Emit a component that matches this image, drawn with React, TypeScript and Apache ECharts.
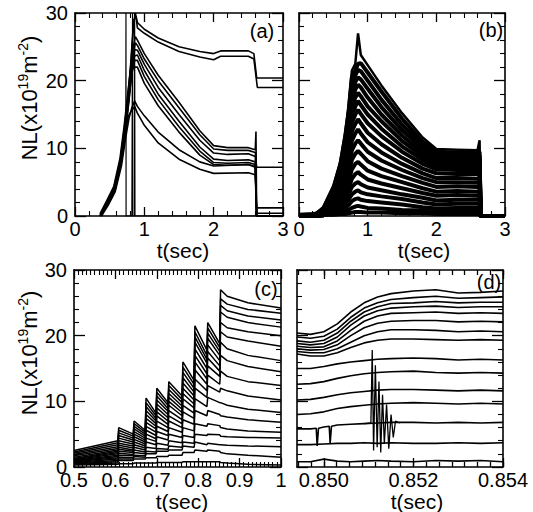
import React, { useEffect, useRef } from 'react';
import * as echarts from 'echarts';

const FONT = 'Liberation Sans';

// ---------- Panel (a): individual discharges, [t, NL] ----------
const A1 = [[0.36,0],[0.46,2.0],[0.56,4.2],[0.65,8.0],[0.71,12.8],[0.76,17.5],[0.8,22],[0.84,28],[0.87,30],[0.9,28.6],[1.0,27.6],[1.2,26.3],[1.5,25.0],[1.8,24.3],[2.0,24.0],[2.1,24.4],[2.5,24.4],[2.58,24.0],[2.62,20.4],[3.0,20.4]];
const A2 = [[0.37,0],[0.47,2.1],[0.57,4.0],[0.66,8.2],[0.72,13],[0.77,18],[0.81,23],[0.85,29],[0.88,29.5],[0.9,27.8],[1.0,27.0],[1.2,25.7],[1.5,24.3],[1.8,23.5],[2.0,23.1],[2.1,23.6],[2.5,23.6],[2.58,23.2],[2.63,19.0],[3.0,19.0]];
const A3 = [[0.36,0.3],[0.46,2.3],[0.56,4.4],[0.65,8.6],[0.71,13.4],[0.76,18],[0.8,21.5],[0.84,25],[0.87,26.5],[0.9,26.0],[1.0,24.0],[1.2,20.8],[1.5,16.8],[1.8,12.6],[2.0,10.4],[2.2,10.1],[2.5,10.1],[2.6,9.8],[2.61,12.5],[2.62,0.4],[3.0,0.4]];
const A4 = [[0.37,0],[0.47,1.8],[0.57,3.8],[0.66,7.8],[0.72,12.4],[0.77,17],[0.81,21],[0.85,24.5],[0.87,25.6],[0.9,25.2],[1.0,23.2],[1.2,20.0],[1.5,16.0],[1.8,12.0],[2.0,9.9],[2.2,9.7],[2.5,9.7],[2.6,9.4],[2.62,7.2],[3.0,7.2]];
const A5 = [[0.38,0],[0.48,1.9],[0.58,3.9],[0.67,8.0],[0.73,12.6],[0.78,17.2],[0.82,21.5],[0.86,24.6],[0.9,24.5],[1.0,22.4],[1.2,19.0],[1.5,15.0],[1.8,11.2],[2.0,9.3],[2.2,9.1],[2.5,9.2],[2.6,8.8],[2.62,1.2],[3.0,1.2]];
const A6 = [[0.37,0.2],[0.47,2.2],[0.57,4.1],[0.66,8.4],[0.72,13],[0.77,17.6],[0.81,21.2],[0.85,23.6],[0.9,23.8],[1.0,21.5],[1.2,18.0],[1.5,14.0],[1.8,10.2],[2.0,8.4],[2.2,8.2],[2.5,8.3],[2.6,8.0],[2.62,0],[3.0,0]];
const A7 = [[0.38,0.1],[0.48,2.0],[0.58,4.0],[0.67,8.2],[0.73,12.8],[0.78,17.4],[0.82,21],[0.86,23],[0.9,23.0],[1.0,20.6],[1.2,17.2],[1.5,13.2],[1.8,9.6],[2.0,7.9],[2.2,7.8],[2.5,7.9],[2.6,7.6],[2.62,0],[3.0,0]];
const A8 = [[0.36,0],[0.46,1.7],[0.56,3.7],[0.65,7.6],[0.71,12.2],[0.76,16.8],[0.8,20.5],[0.84,22],[0.9,22.0],[1.0,19.6],[1.2,16.3],[1.5,12.4],[1.8,9.0],[2.0,7.6],[2.2,7.5],[2.5,7.6],[2.6,7.3],[2.62,0],[3.0,0]];
const A9 = [[0.38,0],[0.48,1.6],[0.58,3.6],[0.67,7.4],[0.73,11.5],[0.78,14.5],[0.82,16],[0.86,17.0],[0.9,16.2],[1.0,14.8],[1.2,12.4],[1.5,9.8],[1.8,8.0],[2.0,7.4],[2.5,7.6],[2.6,7.2],[2.62,0],[3.0,0]];
const A10 = [[0.37,0.2],[0.47,2.0],[0.57,4.0],[0.66,7.8],[0.72,12],[0.77,14.8],[0.82,15.6],[0.86,16.2],[0.9,15.2],[1.0,13.4],[1.2,10.8],[1.5,8.4],[1.8,6.9],[2.0,6.3],[2.5,6.4],[2.6,6.1],[2.62,0],[3.0,0]];
const A11 = [[0.36,0.1],[0.46,1.9],[0.56,4.0],[0.65,8.0],[0.71,12.5],[0.733,15],[0.735,30],[0.737,0],[3.0,0]];
const A12 = [[0.82,0],[0.83,30],[0.832,0]];
const A13 = [[0.855,0],[0.86,30],[0.865,0]];

// ---------- Panel (b): shared times, one value list per discharge ----------
const TB = [0, 0.2, 0.35, 0.5, 0.6, 0.67, 0.72, 0.77, 0.82, 0.86, 0.9, 1.0, 1.2, 1.5, 1.8, 2.0, 2.3, 2.6, 2.63, 2.645, 3.0];
const B1 = [0, 0, 1.3, 4.5, 8, 12.2, 16, 21.5, 22.5, 27, 23.8, 22.3, 19.3, 15.2, 11.6, 9.9, 9.8, 9.7, 11.2, 0, 0];
const B2 = [0, 0, 1.0, 4.0, 7.5, 11.5, 15.2, 20.5, 21.5, 22.5, 22.6, 21.2, 18.4, 14.4, 11.0, 9.5, 9.4, 9.3, 9.5, 0, 0];
const B3 = [0, 0, 0.8, 3.6, 7.0, 10.8, 14.5, 19.5, 20.8, 21.6, 21.4, 20.0, 17.2, 13.5, 10.4, 9.1, 9.0, 8.9, 9.0, 0, 0];
const B4 = [0, 0, 0.6, 3.2, 6.4, 10.0, 13.6, 18.5, 19.8, 20.5, 20.2, 18.8, 16.1, 12.7, 9.9, 8.7, 8.6, 8.6, 8.7, 0, 0];
const B5 = [0, 0, 0.5, 2.9, 5.9, 9.3, 12.7, 17.4, 18.7, 19.4, 19.0, 17.5, 15.0, 11.9, 9.3, 8.2, 8.2, 8.2, 8.3, 0, 0];
const B6 = [0, 0, 0.4, 2.6, 5.4, 8.6, 11.8, 16.2, 17.5, 18.2, 17.7, 16.2, 14.0, 11.1, 8.8, 7.8, 7.8, 7.8, 7.9, 0, 0];
const B7 = [0, 0, 0.3, 2.3, 4.9, 7.9, 10.9, 15.0, 16.2, 17.0, 16.4, 15.0, 12.9, 10.3, 8.3, 7.4, 7.3, 7.3, 7.4, 0, 0];
const B8 = [0, 0, 0.3, 2.0, 4.4, 7.2, 10.0, 13.8, 15.0, 15.7, 15.1, 13.7, 11.8, 9.5, 7.7, 6.9, 6.8, 6.8, 6.9, 0, 0];
const B9 = [0, 0, 0.2, 1.8, 4.0, 6.5, 9.0, 12.5, 13.6, 14.3, 13.7, 12.3, 10.6, 8.6, 7.0, 6.3, 6.2, 6.2, 6.3, 0, 0];
const B10 = [0, 0, 0.2, 1.6, 3.6, 5.8, 8.0, 11.1, 12.2, 12.8, 12.2, 10.9, 9.4, 7.7, 6.3, 5.6, 5.6, 5.5, 5.6, 0, 0];
const B11 = [0, 0, 0.2, 1.4, 3.2, 5.1, 7.0, 9.7, 10.7, 11.2, 10.7, 9.5, 8.2, 6.8, 5.6, 5.0, 5.0, 4.9, 5.0, 0, 0];
const B12 = [0, 0, 0.1, 1.2, 2.8, 4.4, 6.0, 8.3, 9.2, 9.6, 9.2, 8.1, 7.0, 5.9, 4.9, 4.3, 4.4, 4.3, 4.4, 0, 0];
const B13 = [0, 0, 0.1, 1.0, 2.4, 3.7, 5.0, 6.9, 7.7, 8.0, 7.6, 6.7, 5.9, 5.0, 4.1, 3.6, 3.7, 3.6, 3.7, 0, 0];
const B14 = [0, 0, 0.1, 0.8, 2.0, 3.0, 4.0, 5.5, 6.2, 6.5, 6.1, 5.4, 4.8, 4.1, 3.4, 3.0, 3.1, 3.0, 3.1, 0, 0];
const B15 = [0, 0, 0.1, 0.7, 1.6, 2.4, 3.2, 4.3, 4.8, 5.0, 4.7, 4.2, 3.8, 3.2, 2.7, 2.3, 2.4, 2.4, 2.4, 0, 0];
const B16 = [0, 0, 0.1, 0.5, 1.2, 1.8, 2.4, 3.2, 3.6, 3.8, 3.5, 3.2, 2.9, 2.5, 2.0, 1.7, 1.8, 1.8, 1.8, 0, 0];
const B17 = [0.1, 0.2, 0.2, 0.4, 0.8, 1.2, 1.6, 2.2, 2.5, 2.6, 2.4, 2.2, 2.0, 1.7, 1.3, 1.1, 1.2, 1.2, 1.2, 0, 0];
const B18 = [0.2, 0.3, 0.4, 0.4, 0.5, 0.7, 0.9, 1.2, 1.4, 1.5, 1.4, 1.2, 1.1, 0.9, 0.8, 0.6, 0.7, 0.7, 0.7, 0, 0];
const B19 = [0.1, 0.1, 0.2, 0.2, 0.3, 0.3, 0.4, 0.5, 0.6, 0.6, 0.6, 0.5, 0.5, 0.4, 0.4, 0.3, 0.3, 0.3, 0.3, 0, 0];

// ---------- Panel (c): pellet staircase, shared times ----------
const TC = [0.5, 0.606, 0.608, 0.643, 0.645, 0.672, 0.674, 0.698, 0.7, 0.727, 0.729, 0.761, 0.763, 0.79, 0.792, 0.821, 0.823, 0.852, 0.854, 0.87, 0.92, 1.0];
const C1 = [2.5, 4.0, 6.0, 5.0, 7.0, 5.6, 10.5, 8.2, 12.0, 9.8, 13.0, 10.8, 16.0, 13.2, 21.5, 17.8, 22.0, 18.8, 27.0, 26.0, 25.0, 24.2];
const C2 = [2.3, 3.7, 5.6, 4.7, 6.6, 5.3, 9.8, 7.8, 11.4, 9.4, 12.4, 10.3, 15.2, 12.6, 20.6, 17.0, 21.2, 18.2, 25.6, 24.8, 24.0, 23.4];
const C3 = [2.1, 3.4, 5.2, 4.4, 6.2, 5.0, 9.2, 7.4, 10.8, 8.9, 11.8, 9.8, 14.4, 12.0, 19.8, 16.4, 20.4, 17.6, 24.6, 23.8, 23.0, 22.4];
const C4 = [1.9, 3.1, 4.8, 4.1, 5.8, 4.7, 8.6, 7.0, 10.2, 8.5, 11.2, 9.3, 13.6, 11.4, 19.0, 15.8, 19.6, 17.0, 23.6, 22.8, 22.0, 21.3];
const C5 = [1.7, 2.8, 4.4, 3.8, 5.4, 4.4, 8.0, 6.6, 9.6, 8.0, 10.6, 8.8, 12.8, 10.8, 18.0, 15.0, 18.6, 16.2, 22.0, 21.2, 20.6, 20.0];
const C6 = [1.5, 2.6, 4.0, 3.5, 5.0, 4.1, 7.4, 6.2, 9.0, 7.5, 10.0, 8.3, 12.0, 10.2, 17.0, 14.2, 17.6, 15.4, 20.6, 19.8, 19.2, 18.4];
const C7 = [1.3, 2.4, 3.6, 3.2, 4.6, 3.8, 6.8, 5.8, 8.4, 7.0, 9.4, 7.8, 11.2, 9.6, 16.0, 13.4, 16.6, 14.6, 19.0, 18.0, 17.0, 16.2];
const C8 = [1.2, 2.2, 3.3, 2.9, 4.2, 3.5, 6.2, 5.3, 7.8, 6.5, 8.6, 7.2, 10.4, 9.0, 14.8, 12.6, 15.4, 13.8, 17.0, 16.2, 15.3, 14.5];
const C9 = [1.1, 2.0, 3.0, 2.6, 3.8, 3.2, 5.6, 4.8, 7.0, 6.0, 7.8, 6.6, 9.4, 8.2, 13.4, 11.6, 14.0, 12.6, 14.6, 13.8, 13.0, 12.4];
const C10 = [1.0, 1.8, 2.7, 2.4, 3.4, 2.9, 5.0, 4.3, 6.2, 5.4, 7.0, 6.0, 8.4, 7.4, 12.0, 10.6, 12.4, 11.4, 12.0, 11.6, 10.8, 10.2];
const C11 = [0.9, 1.6, 2.4, 2.2, 3.0, 2.6, 4.4, 3.9, 5.4, 4.8, 6.0, 5.3, 7.2, 6.5, 10.4, 9.2, 10.6, 9.8, 9.8, 9.4, 8.8, 8.3];
const C12 = [0.8, 1.4, 2.1, 1.9, 2.6, 2.3, 3.8, 3.4, 4.6, 4.1, 5.0, 4.5, 6.0, 5.5, 8.6, 7.8, 8.6, 8.0, 7.8, 7.6, 7.2, 6.8];
const C13 = [0.7, 1.2, 1.8, 1.7, 2.2, 2.0, 3.0, 2.8, 3.6, 3.3, 4.0, 3.7, 4.8, 4.5, 6.6, 6.2, 6.6, 6.3, 6.0, 5.8, 5.5, 5.3];
const C14 = [0.6, 1.0, 1.5, 1.4, 1.8, 1.7, 2.4, 2.3, 2.8, 2.7, 3.2, 3.0, 3.8, 3.6, 5.0, 4.8, 5.0, 4.9, 4.7, 4.6, 4.5, 4.4];
const C15 = [0.5, 0.8, 1.2, 1.2, 1.6, 1.5, 2.0, 2.0, 2.4, 2.4, 2.6, 2.6, 3.2, 3.0, 3.8, 3.4, 3.6, 3.4, 3.4, 3.3, 3.2, 3.1];
const C16 = [0.4, 0.6, 1.0, 1.0, 1.2, 1.2, 1.4, 1.4, 1.6, 1.6, 1.8, 1.8, 2.2, 2.2, 2.6, 2.4, 2.6, 2.4, 2.2, 2.0, 1.8, 1.5];
const C17 = [0.3, 0.4, 0.5, 0.5, 0.6, 0.6, 0.6, 0.6, 0.7, 0.7, 0.7, 0.7, 0.8, 0.8, 0.8, 0.8, 0.8, 0.8, 0.7, 0.6, 0.4, 0.3];

// ---------- Panel (d): zoom around the last pellet ----------
const TD = [0.8494, 0.8497, 0.85, 0.8503, 0.8506, 0.8509, 0.8512, 0.8515, 0.852, 0.8525, 0.853, 0.8535, 0.854];
const D1 = [20.4, 20.2, 20.6, 21.8, 23.6, 25.0, 25.9, 26.4, 26.8, 27.0, 26.5, 26.6, 26.8];
const D2 = [19.8, 19.6, 19.9, 21.0, 22.8, 24.2, 25.0, 25.5, 25.8, 26.0, 25.7, 25.8, 25.9];
const D3 = [19.2, 19.0, 19.3, 20.4, 22.2, 23.6, 24.4, 24.9, 25.0, 25.2, 25.0, 25.1, 25.1];
const D4 = [18.8, 18.6, 18.8, 19.8, 21.6, 23.0, 23.8, 24.2, 24.4, 24.5, 24.3, 24.4, 24.4];
const D5 = [18.4, 18.2, 18.3, 19.2, 20.8, 22.2, 23.0, 23.4, 23.5, 23.6, 23.4, 23.5, 23.4];
const D6 = [18.0, 17.8, 17.9, 18.6, 20.0, 21.2, 21.9, 22.2, 22.3, 22.3, 22.1, 22.2, 22.1];
const D7 = [17.6, 17.4, 17.4, 18.0, 19.0, 20.0, 20.6, 20.9, 20.9, 20.8, 20.6, 20.7, 20.6];
const D8 = [17.2, 16.9, 16.9, 17.4, 18.2, 18.9, 19.3, 19.5, 19.5, 19.4, 19.3, 19.4, 19.3];
const D9 = [15.0, 15.0, 15.3, 15.7, 16.0, 16.2, 16.4, 16.5, 16.6, 16.5, 16.3, 16.4, 16.3];
const D10 = [12.6, 12.7, 13.0, 13.5, 13.9, 14.2, 14.4, 14.5, 14.6, 14.4, 14.3, 14.4, 14.3];
const D11 = [10.2, 10.3, 10.6, 11.0, 11.3, 11.5, 11.7, 11.8, 11.8, 11.7, 11.6, 11.7, 11.6];
const D12 = [8.0, 8.1, 8.4, 8.9, 9.2, 9.4, 9.6, 9.7, 9.8, 9.7, 9.6, 9.7, 9.6];
const D14 = [3.4, 3.4, 3.5, 3.6, 3.6, 3.7, 3.6, 3.7, 3.6, 3.6, 3.7, 3.6, 3.7];
const D15 = [0.8, 0.8, 1.2, 0.9, 0.8, 0.9, 1.0, 0.9, 0.8, 1.0, 0.9, 1.0, 0.8];
const D13 = [[0.8494,5.8],[0.8497,5.8],[0.84983,5.9],[0.84985,3.2],[0.84988,5.9],[0.85,6.1],[0.85012,6.2],[0.85014,3.6],[0.85017,6.2],[0.8503,6.4],[0.8506,6.5],[0.8509,6.6],[0.8512,6.7],[0.8515,6.8],[0.852,6.8],[0.8525,6.7],[0.853,6.8],[0.8535,6.7],[0.854,6.8]];
const D_SPIKE = [[0.8509,6.6],[0.85105,6.7],[0.85108,17.8],[0.85111,2.5],[0.85115,15.5],[0.85119,3.0],[0.85123,13.0],[0.85127,2.2],[0.85131,11.0],[0.85135,3.5],[0.8514,9.5],[0.85145,2.8],[0.8515,8.0],[0.85155,4.5],[0.8516,7.0],[0.8517,6.7]];

// tick labels
const Y_TICKS = [0, 10, 20, 30];
const DX_LABELS = [0.85, 0.852, 0.854];

const zip = (t: number[], v: number[]) => t.map((x, i) => [x, v[i]]);

const GRIDS = [
  { left: 75, top: 13, width: 208, height: 203 },
  { left: 299, top: 13, width: 206, height: 203 },
  { left: 74, top: 270, width: 207, height: 197 },
  { left: 297, top: 270, width: 206, height: 197 },
];

function axis(gridIndex: number, position: string, min: number, max: number, extra: any = {}) {
  const { interval, minorSplit = 0, showLabel = false, margin = 4, tickValues, labelValues, hideLine = false, tickLen = 9, lineHeight } = extra;
  const a: any = {
    type: 'value', gridIndex, position, min, max,
    axisLine: { show: !hideLine, onZero: false, lineStyle: { color: '#000', width: 1.6 } },
    axisTick: { show: true, inside: true, length: tickLen, lineStyle: { color: '#000', width: 1.3 } },
    minorTick: { show: minorSplit > 0, splitNumber: minorSplit || 5, length: 5, lineStyle: { color: '#000', width: 1.1 } },
    splitLine: { show: false },
    minorSplitLine: { show: false },
    axisLabel: {
      show: showLabel, margin, color: '#000', fontFamily: FONT, fontSize: 20,
      showMinLabel: true, showMaxLabel: true, hideOverlap: false,
    },
  };
  if (lineHeight) a.axisLabel.lineHeight = lineHeight;
  if (interval !== undefined) a.interval = interval;
  if (tickValues) a.axisTick.customValues = tickValues;
  if (labelValues) {
    a.axisLabel.customValues = labelValues;
    a.axisLabel.formatter = (v: number) => v.toFixed(3);
  }
  return a;
}

function ln(data: any[], idx: number, width: number) {
  return {
    type: 'line', xAxisIndex: idx, yAxisIndex: idx, data, symbol: 'none', showSymbol: false,
    silent: true, lineStyle: { color: '#000', width }, z: 3,
  };
}

function txt(text: string, x: number, y: number, size: number, lh?: number) {
  const style: any = { text, fill: '#000', fontFamily: FONT, fontSize: size, align: 'center', verticalAlign: 'middle', textAlign: 'center', textVerticalAlign: 'middle' };
  if (lh) style.lineHeight = lh;
  return { type: 'text', x, y, silent: true, style };
}

function yTitle(x: number, y: number) {
  return {
    type: 'text', x, y, rotation: Math.PI / 2, silent: true,
    style: {
      text: '{m|NL(x10}{s|19}{m|m}{s|-2}{m|)}',
      align: 'center', verticalAlign: 'middle', textAlign: 'center', textVerticalAlign: 'middle',
      fill: '#000', fontFamily: FONT, fontSize: 22,
      rich: {
        m: { fontFamily: FONT, fontSize: 22, fill: '#000', lineHeight: 26 },
        s: { fontFamily: FONT, fontSize: 14, fill: '#000', lineHeight: 14, verticalAlign: 'top' },
      },
    },
  };
}

export default function App() {
  const ref = useRef<HTMLDivElement>(null);
  useEffect(() => {
    document.body.style.margin = '0';
    const chart = echarts.init(ref.current!, null, { renderer: 'svg' });

    const dMinor: number[] = [];
    const step = (DX_LABELS[1] - DX_LABELS[0]) / 7;
    for (let k = -2; k <= 14; k++) {
      const v = DX_LABELS[0] + k * step;
      if (v >= 0.8494 - 1e-9 && v <= 0.854 + 1e-9) dMinor.push(Math.min(Math.max(v, 0.8494), 0.854));
    }

    const yMax = Y_TICKS[Y_TICKS.length - 1];
    const xl = { showLabel: true, margin: 6, lineHeight: 14 };
    const xAxis = [
      axis(0, 'bottom', 0, 3, { interval: 1, minorSplit: 5, ...xl }),
      axis(0, 'top', 0, 3, { interval: 1, minorSplit: 5 }),
      axis(1, 'bottom', 0, 3, { interval: 1, minorSplit: 5, ...xl }),
      axis(1, 'top', 0, 3, { interval: 1, minorSplit: 5 }),
      axis(2, 'bottom', 0.5, 1, { interval: 0.1, minorSplit: 10, ...xl }),
      axis(2, 'top', 0.5, 1, { interval: 0.1, minorSplit: 10 }),
      axis(3, 'bottom', 0.8494, 0.854, { ...xl, tickValues: DX_LABELS, labelValues: DX_LABELS }),
      axis(3, 'top', 0.8494, 0.854, { tickValues: DX_LABELS }),
      axis(3, 'bottom', 0.8494, 0.854, { tickValues: dMinor, hideLine: true, tickLen: 5 }),
      axis(3, 'top', 0.8494, 0.854, { tickValues: dMinor, hideLine: true, tickLen: 5 }),
    ];
    const yl = { interval: 10, minorSplit: 5, tickLen: 11 };
    const yAxis = [
      axis(0, 'left', 0, yMax, { ...yl, showLabel: true, margin: 7, lineHeight: 10 }),
      axis(0, 'right', 0, yMax, yl),
      axis(1, 'left', 0, yMax, yl),
      axis(1, 'right', 0, yMax, yl),
      axis(2, 'left', 0, yMax, { ...yl, showLabel: true, margin: 7, lineHeight: 10 }),
      axis(2, 'right', 0, yMax, yl),
      axis(3, 'left', 0, yMax, yl),
      axis(3, 'right', 0, yMax, yl),
    ];

    const series: any[] = [];
    [A1, A2, A3, A4, A5, A6, A7, A8, A9, A10].forEach((d) => series.push(ln(d, 0, 1.6)));
    [A11, A12, A13].forEach((d) => series.push(ln(d, 0, 1.2)));
    series.push(ln(zip(TB, B1), 2, 2.5));
    [B2, B3, B4, B5, B6, B7, B8, B9, B10, B11, B12, B13, B14, B15, B16, B17, B18, B19].forEach((v) => series.push(ln(zip(TB, v), 2, 4)));
    [C1, C2, C3, C4, C5, C6, C7, C8, C9, C10, C11, C12, C13, C14, C15, C16, C17].forEach((v) => series.push(ln(zip(TC, v), 4, 1.5)));
    [D1, D2, D3, D4, D5, D6, D7, D8, D9, D10, D11, D12, D14, D15].forEach((v) => series.push(ln(zip(TD, v), 6, 1.6)));
    series.push(ln(D13, 6, 1.6));
    series.push(ln(D_SPIKE, 6, 1.3));

    chart.setOption({
      animation: false,
      backgroundColor: '#fff',
      grid: GRIDS,
      xAxis,
      yAxis,
      series,
      graphic: [
        yTitle(29, 98),
        yTitle(29, 353),
        txt('t(sec)', 183, 250, 21, 14),
        txt('t(sec)', 424, 250, 21, 14),
        txt('t(sec)', 182, 501, 21, 14),
        txt('t(sec)', 417, 501, 21, 14),
        txt('(a)', 262, 31, 20),
        txt('(b)', 491, 30, 20),
        txt('(c)', 266, 289, 20),
        txt('(d)', 489, 282, 20),
      ],
    });
    return () => chart.dispose();
  }, []);
  return <div ref={ref} style={{ width: 533, height: 512 }} />;
}
